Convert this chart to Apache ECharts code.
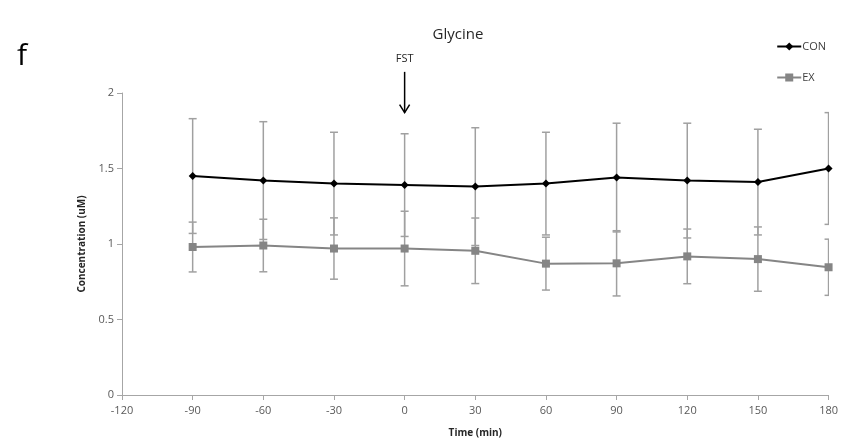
<!DOCTYPE html>
<html>
<head>
<meta charset="utf-8">
<script src="https://cdn.jsdelivr.net/npm/echarts@6/dist/echarts.min.js"></script>
<style>
html, body { margin: 0; padding: 0; background: #fff; }
#chart { width: 841px; height: 443px; }
</style>
</head>
<body>
<div id="chart"></div>
<script>
// time points (min) and group means / SD
var times = [-90, -60, -30, 0, 30, 60, 90, 120, 150, 180];
var conMean = [1.45, 1.42, 1.40, 1.39, 1.38, 1.40, 1.44, 1.42, 1.41, 1.50];
var conErr = [0.38, 0.39, 0.34, 0.34, 0.39, 0.34, 0.36, 0.38, 0.35, 0.37];
var exMean = [0.98, 0.99, 0.97, 0.97, 0.955, 0.87, 0.872, 0.918, 0.90, 0.846];
var exErr = [0.165, 0.174, 0.203, 0.247, 0.217, 0.175, 0.216, 0.181, 0.213, 0.186];

var font = 'Open Sans';
var axisGray = '#a6a6a6';
var barGray = '#a0a0a0';

function pairs(means) {
    return times.map(function (t, i) { return [t, means[i]]; });
}
function bars(means, errs) {
    return times.map(function (t, i) { return [t, means[i] - errs[i], means[i] + errs[i]]; });
}

function renderBar(params, api) {
    var x = api.value(0);
    var lo = api.coord([x, api.value(1)]);
    var hi = api.coord([x, api.value(2)]);
    var half = 4;
    var style = { stroke: barGray, lineWidth: 1.5 };
    return {
        type: 'group',
        children: [
            { type: 'line', shape: { x1: hi[0], y1: hi[1], x2: lo[0], y2: lo[1] }, style: style },
            { type: 'line', shape: { x1: hi[0] - half, y1: hi[1], x2: hi[0] + half, y2: hi[1] }, style: style },
            { type: 'line', shape: { x1: lo[0] - half, y1: lo[1], x2: lo[0] + half, y2: lo[1] }, style: style }
        ]
    };
}

var myChart = echarts.init(document.getElementById('chart'));

var option = {
    backgroundColor: '#fff',
    animation: false,
    title: [
        {
            text: 'Glycine',
            left: 453,
            top: 22,
            textAlign: 'center',
            textStyle: { fontFamily: font, fontSize: 15, fontWeight: 'normal', color: '#262626' }
        },
        {
            text: 'f',
            left: 12,
            top: 36,
            textStyle: { fontFamily: font, fontSize: 30, fontWeight: 'normal', color: '#000' }
        }
    ],
    legend: {
        orient: 'vertical',
        right: 10,
        top: 36,
        itemGap: 20,
        itemWidth: 24,
        itemHeight: 10,
        data: ['CON', 'EX'],
        textStyle: { fontFamily: font, fontSize: 11, color: '#404040', padding: [0, 0, 0, -4] }
    },
    grid: {
        left: 122,
        right: 11,
        top: 93,
        bottom: 48
    },
    xAxis: {
        type: 'value',
        min: -120,
        max: 180,
        interval: 30,
        name: 'Time (min)',
        nameLocation: 'middle',
        nameGap: 33,
        nameTextStyle: { fontFamily: font, fontSize: 10, fontWeight: 'bold', color: '#262626' },
        axisLine: { onZero: false, lineStyle: { color: axisGray, width: 1 } },
        axisTick: { show: true, length: 5, lineStyle: { color: axisGray } },
        axisLabel: { fontFamily: font, fontSize: 11, color: '#595959', margin: 10 },
        splitLine: { show: false }
    },
    yAxis: {
        type: 'value',
        min: 0,
        max: 2,
        interval: 0.5,
        name: 'Concentration (uM)',
        nameLocation: 'middle',
        nameGap: 33,
        nameTextStyle: { fontFamily: font, fontSize: 10, fontWeight: 'bold', color: '#262626' },
        axisLine: { show: true, onZero: false, lineStyle: { color: axisGray, width: 1 } },
        axisTick: { show: true, length: 5, lineStyle: { color: axisGray } },
        axisLabel: { fontFamily: font, fontSize: 11, color: '#595959', margin: 8 },
        splitLine: { show: false }
    },
    series: [
        {
            name: 'CON err',
            type: 'custom',
            renderItem: renderBar,
            encode: { x: 0, y: [1, 2] },
            data: bars(conMean, conErr),
            clip: true,
            z: 1
        },
        {
            name: 'EX err',
            type: 'custom',
            renderItem: renderBar,
            encode: { x: 0, y: [1, 2] },
            data: bars(exMean, exErr),
            clip: true,
            z: 1
        },
        {
            name: 'CON',
            type: 'line',
            data: pairs(conMean),
            symbol: 'diamond',
            symbolSize: 8,
            lineStyle: { color: '#000', width: 2 },
            itemStyle: { color: '#000' },
            z: 3
        },
        {
            name: 'EX',
            type: 'line',
            data: pairs(exMean),
            symbol: 'rect',
            symbolSize: 8,
            lineStyle: { color: '#858585', width: 2 },
            itemStyle: { color: '#858585' },
            z: 2
        }
    ]
};

myChart.setOption(option);

// FST annotation: label and arrow above time 0
var top0 = myChart.convertToPixel({ gridIndex: 0 }, [0, 2.14]);
var tip0 = myChart.convertToPixel({ gridIndex: 0 }, [0, 1.87]);
myChart.setOption({
    graphic: [
        {
            type: 'text',
            x: top0[0],
            y: top0[1] - 8,
            style: { text: 'FST', font: '11px "Open Sans"', fill: '#262626', textAlign: 'center', textVerticalAlign: 'bottom' }
        },
        {
            type: 'line',
            shape: { x1: top0[0], y1: top0[1], x2: tip0[0], y2: tip0[1] },
            style: { stroke: '#000', lineWidth: 1.5 }
        },
        {
            type: 'polyline',
            shape: { points: [[tip0[0] - 5, tip0[1] - 8], [tip0[0], tip0[1]], [tip0[0] + 5, tip0[1] - 8]] },
            style: { stroke: '#000', lineWidth: 1.5, fill: null }
        }
    ]
});
</script>
</body>
</html>
